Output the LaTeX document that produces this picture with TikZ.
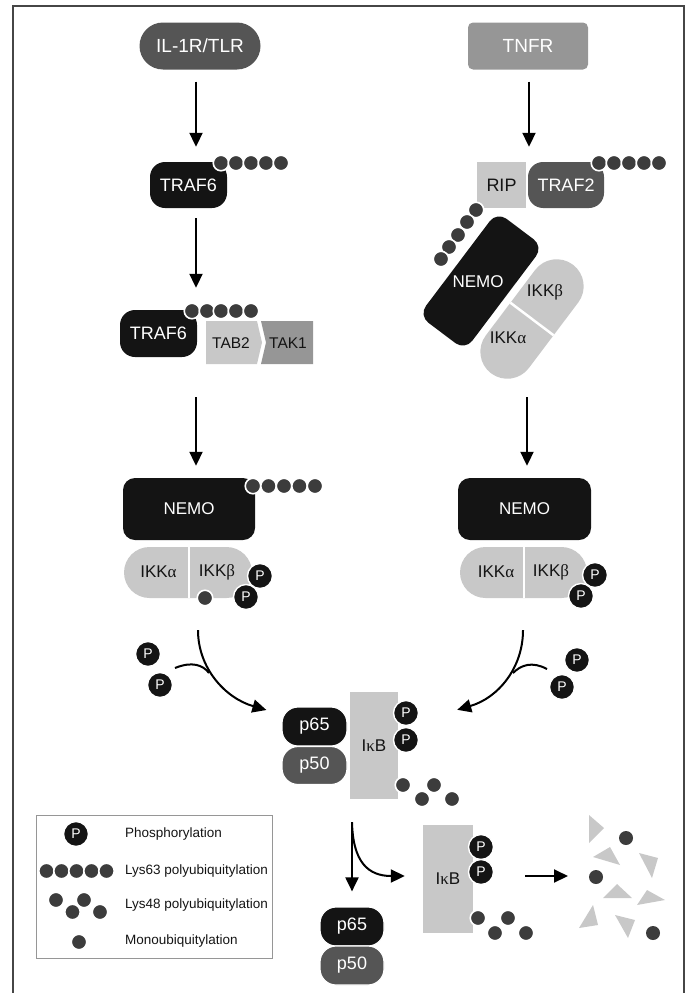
\documentclass[tikz,border=0pt]{standalone}
\usepackage{fontspec}
\setmainfont{Liberation Sans}
\newfontfamily\grk{Liberation Serif}
\usetikzlibrary{arrows.meta}
\definecolor{cink}{RGB}{20,20,20}
\definecolor{cdark}{RGB}{85,85,85}
\definecolor{cub}{RGB}{60,60,60}
\definecolor{cmid}{RGB}{150,150,150}
\definecolor{cpale}{RGB}{200,200,200}
\definecolor{crim}{RGB}{70,70,70}
\newcommand{\fsz}[1]{\fontsize{#1}{#1}\selectfont}

\begin{document}
\begin{tikzpicture}[x=1pt, y=-1pt,
    prot/.style={rectangle, inner sep=0pt, text=white, font=\fsz{18}},
    ub/.style={circle, fill=cub, draw=white, line width=1.6pt, minimum size=15.5pt, inner sep=0pt},
    phos/.style={circle, fill=cink, draw=white, line width=1.4pt, minimum size=25pt, inner sep=0pt, text=white, font=\fsz{14}},
    frag/.style={fill=cpale},
    arr/.style={-{Triangle[length=14pt,width=13pt]}, line width=2pt},
    legtext/.style={anchor=west, inner sep=0pt, text=cink, font=\fsz{13.5}}]
      \useasboundingbox (0,0) rectangle (687,993);
      \draw[crim, line width=1.5pt] (13,993) -- (13,6) -- (684,6) -- (684,993);

      % Receptors
      \node[prot, fill=cdark, minimum width=121pt, minimum height=47pt, rounded corners=23.5pt, font=\fsz{19}] (il) at (200,46) {IL-1R/TLR};
      \node[prot, fill=cmid, minimum width=120pt, minimum height=47pt, rounded corners=5pt, font=\fsz{19}] (tnfr) at (528,46) {TNFR};

      % TRAF6 (left)
      \node[prot, fill=cink, minimum width=77pt, minimum height=46pt, rounded corners=15pt] (traf6a) at (188.5,185) {TRAF6};
      \node[ub] (ua1) at (221,163) {}; \node[ub] (ua2) at (236,163) {}; \node[ub] (ua3) at (251,163) {};
      \node[ub] (ua4) at (266,163) {}; \node[ub] (ua5) at (281,163) {};

      % RIP / TRAF2 (right)
      \node[prot, fill=cpale, text=cink, minimum width=49pt, minimum height=46pt] (rip) at (501.5,185) {RIP};
      \node[prot, fill=cdark, minimum width=76pt, minimum height=46pt, rounded corners=15pt] (traf2) at (566,185) {TRAF2};
      \node[ub] (ut1) at (599,163) {}; \node[ub] (ut2) at (614,163) {}; \node[ub] (ut3) at (629,163) {};
      \node[ub] (ut4) at (644,163) {}; \node[ub] (ut5) at (659,163) {};

      % NEMO + IKK (right, tilted)
      \node[prot, fill=cink, minimum width=130pt, minimum height=58pt, rounded corners=12pt, rotate=53] (nemor) at (481,281) {};
      \node[prot, font=\fsz{17}] (nemortxt) at (478,282) {NEMO};
      \node[prot, fill=cpale, minimum width=136pt, minimum height=54pt, rounded corners=27pt, rotate=53] (ikkr) at (532,319) {};
      \draw[white, line width=2.5pt] (ikkr.north) -- (ikkr.south);
      \node[prot, text=cink, font=\fsz{17}] (ikkrb) at (545,292) {IKK{\grk β}};
      \node[prot, text=cink, font=\fsz{17}] (ikkra) at (508,338) {IKK{\grk α}};
      \node[ub] (ur1) at (476,210) {}; \node[ub] (ur2) at (467,222) {}; \node[ub] (ur3) at (458,235) {};
      \node[ub] (ur4) at (449,247) {}; \node[ub] (ur5) at (441,259) {};

      % TRAF6 / TAB2 / TAK1 (left)
      \node[prot, fill=cink, minimum width=77pt, minimum height=47pt, rounded corners=15pt] (traf6b) at (158.5,333.5) {TRAF6};
      \node[ub] (ub1) at (192,311) {}; \node[ub] (ub2) at (207,311) {}; \node[ub] (ub3) at (221,311) {};
      \node[ub] (ub4) at (236,311) {}; \node[ub] (ub5) at (251,311) {};
      \fill[cpale] (206,321) -- (257,321) -- (262,342.5) -- (257,364) -- (206,364) -- cycle;
      \fill[cmid] (261,321) -- (313,321) -- (313,364) -- (261,364) -- (266,342.5) -- cycle;
      \node[prot, text=cink, font=\fsz{15.5}] (tab2) at (231,343) {TAB2};
      \node[prot, text=cink, font=\fsz{15.5}] (tak1) at (288,343) {TAK1};

      % NEMO + IKK (left)
      \node[prot, fill=cink, minimum width=132pt, minimum height=62pt, rounded corners=12pt, font=\fsz{17}] (nemol) at (189,509) {NEMO};
      \node[ub] (ul1) at (253,486) {}; \node[ub] (ul2) at (268.5,486) {}; \node[ub] (ul3) at (284,486) {};
      \node[ub] (ul4) at (299.5,486) {}; \node[ub] (ul5) at (315,486) {};
      \node[prot, fill=cpale, minimum width=128pt, minimum height=51pt, rounded corners=25.5pt] (ikkl) at (188,572.5) {};
      \draw[white, line width=2.5pt] ([xshift=1pt]ikkl.north) -- ([xshift=1pt]ikkl.south);
      \node[prot, text=cink, font=\fsz{17}] (ikkla) at (158.5,572) {IKK{\grk α}};
      \node[prot, text=cink, font=\fsz{17}] (ikklb) at (217,572) {IKK{\grk β}};
      \node[ub] (monol) at (205,598) {};
      \node[phos] (pl1) at (260,576) {P};
      \node[phos] (pl2) at (246,597) {P};

      % NEMO + IKK (right)
      \node[prot, fill=cink, minimum width=133pt, minimum height=62pt, rounded corners=12pt, font=\fsz{17}] (nemor2) at (524.5,509) {NEMO};
      \node[prot, fill=cpale, minimum width=127pt, minimum height=51pt, rounded corners=25.5pt] (ikkr2) at (523.5,572.5) {};
      \draw[white, line width=2.5pt] ([xshift=0.5pt]ikkr2.north) -- ([xshift=0.5pt]ikkr2.south);
      \node[prot, text=cink, font=\fsz{17}] (ikkr2a) at (496,572) {IKK{\grk α}};
      \node[prot, text=cink, font=\fsz{17}] (ikkr2b) at (551,572) {IKK{\grk β}};
      \node[phos] (pr1) at (595,575) {P};
      \node[phos] (pr2) at (581,596) {P};

      % Free phosphates
      \node[phos] (pin1) at (148,654) {P};
      \node[phos] (pin2) at (160,685) {P};
      \node[phos] (pir1) at (577,660) {P};
      \node[phos] (pir2) at (562,687) {P};

      % p65 / p50 / IkB
      \node[prot, fill=cink, draw=white, line width=1.2pt, minimum width=65pt, minimum height=39pt, rounded corners=16pt] (p65a) at (314.5,726.5) {p65};
      \node[prot, fill=cdark, draw=white, line width=1.2pt, minimum width=65pt, minimum height=38pt, rounded corners=16pt] (p50a) at (314.5,765.5) {p50};
      \node[prot, fill=cpale, text=cink, minimum width=48pt, minimum height=107pt, font=\fsz{17}] (ikba) at (374,745.5) {I{\grk κ}B};
      \node[phos] (pa1) at (406,713) {P};
      \node[phos] (pa2) at (406,740) {P};
      \node[ub] (ka1) at (403,785) {}; \node[ub] (ka2) at (422,799) {};
      \node[ub] (ka3) at (434,785) {}; \node[ub] (ka4) at (452,799) {};

      % Arrows
      \draw[arr] ([xshift=-4pt,yshift=-12pt]il.south) -- ([xshift=7.5pt,yshift=15pt]traf6a.north);
      \draw[arr] ([xshift=1pt,yshift=-12pt]tnfr.south) -- ([xshift=-37pt,yshift=15pt]traf2.north);
      \draw[arr] ([xshift=7.5pt,yshift=-10pt]traf6a.south) -- ([xshift=37.5pt,yshift=22pt]traf6b.north);
      \draw[arr] ([xshift=37.5pt,yshift=-40pt]traf6b.south) -- ([xshift=7pt,yshift=12pt]nemol.north);
      \draw[arr] ([xshift=-5pt,yshift=-78pt]ikkr.center) -- ([xshift=2.5pt,yshift=12pt]nemor2.north);

      \coordinate (jl) at (209,673);
      \coordinate (jr) at (513,673);
      \draw[arr] ([xshift=10pt,yshift=-32pt]ikkl.south) .. controls (198,668) and (225,698) .. ([xshift=-15pt,yshift=16.5pt]p65a.west);
      \draw[line width=2pt] ([xshift=15pt,yshift=17pt]pin2.center) .. controls (192,661) and (203,665) .. (jl);
      \draw[arr] ([xshift=-0.5pt,yshift=-32pt]ikkr2.south) .. controls (523,668) and (498,698) .. ([xshift=59pt,yshift=-18pt]ikba.north east);
      \draw[line width=2pt] ([xshift=-15pt,yshift=18pt]pir2.center) .. controls (532,661) and (521,665) .. (jr);

      % Release and degradation
      \node[prot, fill=cink, draw=white, line width=1.2pt, minimum width=64pt, minimum height=39pt, rounded corners=16pt] (p65b) at (352,926.5) {p65};
      \node[prot, fill=cdark, draw=white, line width=1.2pt, minimum width=64pt, minimum height=39pt, rounded corners=16pt] (p50b) at (352,965.5) {p50};
      \node[prot, fill=cpale, text=cink, minimum width=50pt, minimum height=108pt, font=\fsz{17}] (ikbb) at (448,879) {I{\grk κ}B};
      \node[phos] (pb1) at (481,847) {P};
      \node[phos] (pb2) at (481,872) {P};
      \node[ub] (kb1) at (478,918) {}; \node[ub] (kb2) at (495,933) {};
      \node[ub] (kb3) at (508,918) {}; \node[ub] (kb4) at (526,933) {};

      \node[ub, draw=none, minimum size=14pt] (fb1) at (626,838) {};
      \node[ub, draw=none, minimum size=14pt] (fb2) at (596,877) {};
      \node[ub, draw=none, minimum size=14pt] (fb3) at (653,933) {};
      \fill[frag] (589,815) -- (589,843) -- (604,828) -- cycle;
      \fill[frag] (593,857) -- (620,865) -- (610,847) -- cycle;
      \fill[frag] (639,853) -- (658,858) -- (652,878) -- cycle;
      \fill[frag] (603,898) -- (632,898) -- (617,884) -- cycle;
      \fill[frag] (637,905) -- (665,900) -- (647,890) -- cycle;
      \fill[frag] (579,928) -- (598,925) -- (593,905) -- cycle;
      \fill[frag] (615,915) -- (635,920) -- (628,938) -- cycle;

      \draw[arr] ([yshift=84pt]p65b.north) -- ([yshift=15pt]p65b.north);
      \draw[arr] ([yshift=84pt]p65b.north) .. controls (353,862) and (368,876) .. ([xshift=-18pt,yshift=3pt]ikbb.west);
      \draw[arr] ([xshift=52pt,yshift=3pt]ikbb.east) -- ([xshift=-28pt,yshift=1pt]fb2.center);

      % Legend
      \draw[cmid, line width=0.8pt] (36,815) rectangle (272,958);
      \node[phos] (lgp) at (76,834) {P};
      \node[legtext] (lgt1) at (125,834) {Phosphorylation};
      \node[ub] (lg1) at (46.5,871) {}; \node[ub] (lg2) at (61.5,871) {}; \node[ub] (lg3) at (76.5,871) {};
      \node[ub] (lg4) at (91.5,871) {}; \node[ub] (lg5) at (106.5,871) {};
      \node[legtext] (lgt2) at (125,871) {Lys63 polyubiquitylation};
      \node[ub] (lk1) at (56,900) {}; \node[ub] (lk2) at (72.5,912) {};
      \node[ub] (lk3) at (84,900) {}; \node[ub] (lk4) at (100,912) {};
      \node[legtext] (lgt3) at (125,905) {Lys48 polyubiquitylation};
      \node[ub] (lm) at (79,942) {};
      \node[legtext] (lgt4) at (125,941) {Monoubiquitylation};
\end{tikzpicture}
\end{document}
